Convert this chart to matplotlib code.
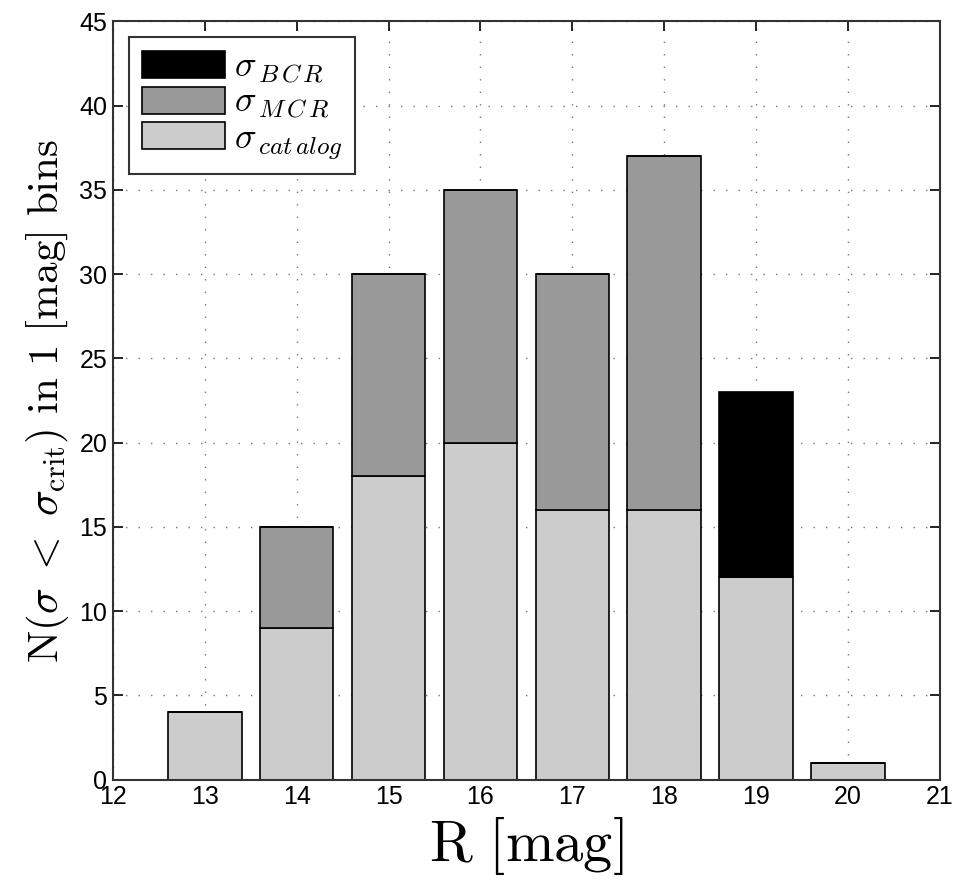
import matplotlib
matplotlib.use('Agg')
import matplotlib.pyplot as plt

# counts per 1 mag bin, stacked bottom to top
mag_bins = [13, 14, 15, 16, 17, 18, 19, 20]
n_catalog = [4, 9, 18, 20, 16, 16, 12, 1]
n_mcr = [0, 6, 12, 15, 14, 21, 0, 0]
n_bcr = [0, 0, 0, 0, 0, 0, 11, 0]

x_ticks = [12, 13, 14, 15, 16, 17, 18, 19, 20, 21]
y_ticks = [0, 5, 10, 15, 20, 25, 30, 35, 40, 45]

legend_labels = [r'$\sigma_{\,B\,C\,R}$', r'$\sigma_{\,M\,C\,R}$', r'$\sigma_{\,cat\,alog}$']


def _build_plot(fig, ax):
    bottom_mcr = n_catalog
    bottom_bcr = [c + m for c, m in zip(n_catalog, n_mcr)]

    kw = dict(width=0.8, edgecolor='black', linewidth=1.2)
    h_cat = ax.bar(mag_bins, n_catalog, color='#cccccc', **kw)
    h_mcr = ax.bar(mag_bins, n_mcr, bottom=bottom_mcr, color='#999999', **kw)
    h_bcr = ax.bar(mag_bins, n_bcr, bottom=bottom_bcr, color='black', **kw)

    ax.set_xlim(12, 21)
    ax.set_ylim(0, 45)
    ax.set_xticks(x_ticks)
    ax.set_yticks(y_ticks)
    ax.tick_params(direction='in', length=7, width=1.2, top=True, right=True,
                   labelsize=18, pad=4)
    for lbl in ax.get_xticklabels() + ax.get_yticklabels():
        lbl.set_family('Liberation Sans')

    ax.grid(True, linestyle=(0, (1, 8)), color='#777777', linewidth=1.0)
    ax.set_axisbelow(True)
    for sp in ax.spines.values():
        sp.set_linewidth(1.5)
        sp.set_color('#333333')

    ax.set_xlabel(r'$\mathrm{R\ [mag]}$', fontsize=42, labelpad=4)
    ax.set_ylabel(r'$\mathrm{N}(\sigma\ <\ \sigma_{\mathrm{crit}})\ \mathrm{in\ 1\ [mag]\ bins}$',
                  fontsize=31, labelpad=6)

    leg = ax.legend([h_bcr, h_mcr, h_cat], legend_labels,
                    loc='upper left', fontsize=26, fancybox=False,
                    handlelength=2.3, handleheight=0.78, handletextpad=0.25,
                    labelspacing=0.0, borderpad=0.35, borderaxespad=0.45)
    leg.get_frame().set_edgecolor('#333333')
    leg.get_frame().set_linewidth(1.5)
    leg.get_frame().set_alpha(1)


def plot():
    plt.rcParams['mathtext.fontset'] = 'cm'
    fig = plt.figure(figsize=(9.73, 8.85), dpi=100)
    ax = fig.add_axes([0.116, 0.119, 0.85, 0.857])
    _build_plot(fig, ax)
    fig.savefig('out.png', dpi=100)
    plt.close(fig)


plot()
